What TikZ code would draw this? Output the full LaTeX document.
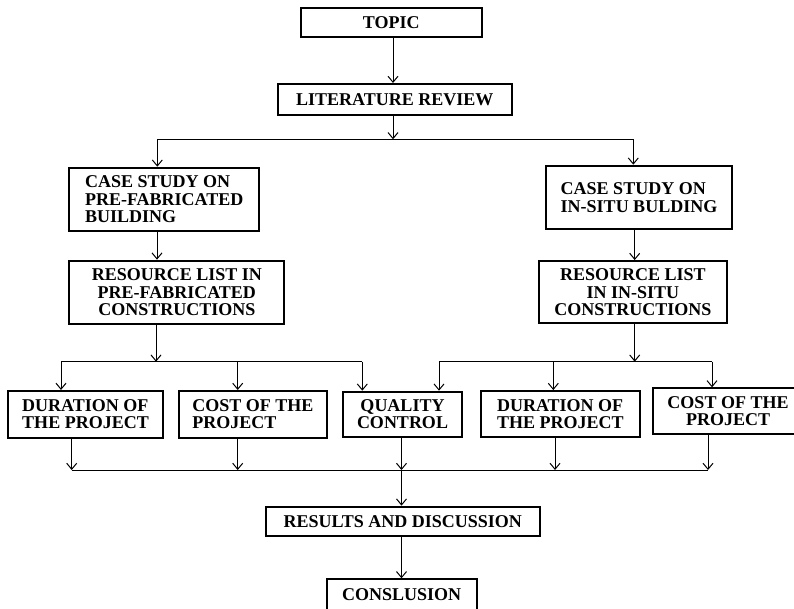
\documentclass[tikz,border=0pt]{standalone}
\usepackage{fontspec}
\setmainfont{Liberation Serif}
\usetikzlibrary{arrows.meta}
\begin{document}
\begin{tikzpicture}[x=1pt,y=-1pt,
  box/.style={draw, line width=2pt, fill=white, inner sep=0pt, font=\fontsize{18}{17.3}\selectfont\bfseries, align=center},
  boxl/.style={box, align=left},
  arr/.style={line width=1pt, -{Straight Barb[length=6pt,width=10pt]}},
  ln/.style={line width=1pt}]
\useasboundingbox (0,0) rectangle (794,608);
\clip (0,0) rectangle (794,608);
\fill[white] (0,0) rectangle (794,608);

\node[box, minimum width=180.7, minimum height=28.4] (topic) at (391.3,22.5) {TOPIC};
\node[box, minimum width=234.3, minimum height=31] (lit) at (394.8,99.5) {LITERATURE REVIEW};
\node[boxl, minimum width=189.7, minimum height=63] (casel) at (164.2,199.2) {CASE STUDY ON\\PRE-FABRICATED\\BUILDING};
\node[boxl, minimum width=186.6, minimum height=63.6] (caser) at (639,197.5) {CASE STUDY ON\\IN-SITU BULDING};
\node[box, minimum width=215, minimum height=63.3] (resl) at (176.8,292.3) {RESOURCE LIST IN\\PRE-FABRICATED\\CONSTRUCTIONS};
\node[box, minimum width=187.7, minimum height=62.3] (resr) at (632.8,292.2) {RESOURCE LIST\\IN IN-SITU\\CONSTRUCTIONS};
\node[boxl, minimum width=154.4, minimum height=46.7] (dur1) at (85.5,414.3) {DURATION OF\\THE PROJECT};
\node[boxl, minimum width=147.7, minimum height=46.7] (cost1) at (252.8,414.3) {COST OF THE\\PROJECT};
\node[box, minimum width=118.4, minimum height=45] (qual) at (402.5,414.2) {QUALITY\\CONTROL};
\node[boxl, minimum width=159.3, minimum height=46.3] (dur2) at (560.3,414.2) {DURATION OF\\THE PROJECT};
\node[box, minimum width=151, minimum height=45.7] (cost2) at (728,411.2) {COST OF THE\\PROJECT};
\node[box, minimum width=274.3, minimum height=29.3] (res) at (402.8,521.3) {RESULTS AND DISCUSSION};
\node[box, minimum width=149.8, minimum height=31.4] (conc) at (401.6,595) {CONSLUSION};

% top connectors
\coordinate (j1) at (393,139.3);
\draw[arr] (topic.south -| j1) -- (lit.north -| j1);
\draw[arr] (lit.south -| j1) -- (j1);
\coordinate (bl) at (157.3,139.3);
\coordinate (br) at (633.3,139.3);
\draw[ln] (bl) -- (br);
\draw[arr] (bl) -- (bl |- casel.north);
\draw[arr] (br) -- (br |- caser.north);
\coordinate (a1) at (157,0);
\coordinate (a2) at (634.7,0);
\draw[arr] (casel.south -| a1) -- (resl.north -| a1);
\draw[arr] (caser.south -| a2) -- (resr.north -| a2);

% distribution to bottom row
\coordinate (jl) at (156,361.7);
\coordinate (jr) at (634.7,361.7);
\draw[arr] (resl.south -| jl) -- (jl);
\draw[arr] (resr.south -| jr) -- (jr);
\coordinate (l1) at (61,361.7);
\coordinate (l2) at (237.7,361.7);
\coordinate (l3) at (362.3,361.7);
\draw[ln] (l1) -- (l3);
\draw[arr] (l1) -- (l1 |- dur1.north);
\draw[arr] (l2) -- (l2 |- cost1.north);
\draw[arr] (l3) -- (l3 |- qual.north);
\coordinate (r1) at (439,361.7);
\coordinate (r2) at (553.3,361.7);
\coordinate (r3) at (712,361.7);
\draw[ln] (r1) -- (r3);
\draw[arr] (r1) -- (r1 |- qual.north);
\draw[arr] (r2) -- (r2 |- dur2.north);
\draw[arr] (r3) -- (r3 |- cost2.north);

% collection
\coordinate (b1) at (71.7,470);
\coordinate (b2) at (237.7,470);
\coordinate (b3) at (401.5,470);
\coordinate (b4) at (555,470);
\coordinate (b5) at (708,470);
\draw[ln] (b1) -- (b5);
\draw[arr] (dur1.south -| b1) -- (b1);
\draw[arr] (cost1.south -| b2) -- (b2);
\draw[arr] (qual.south -| b3) -- (b3);
\draw[arr] (dur2.south -| b4) -- (b4);
\draw[arr] (cost2.south -| b5) -- (b5);
\draw[arr] (b3) -- (b3 |- res.north);
\draw[arr] (res.south -| b3) -- (b3 |- conc.north);
\end{tikzpicture}
\end{document}
